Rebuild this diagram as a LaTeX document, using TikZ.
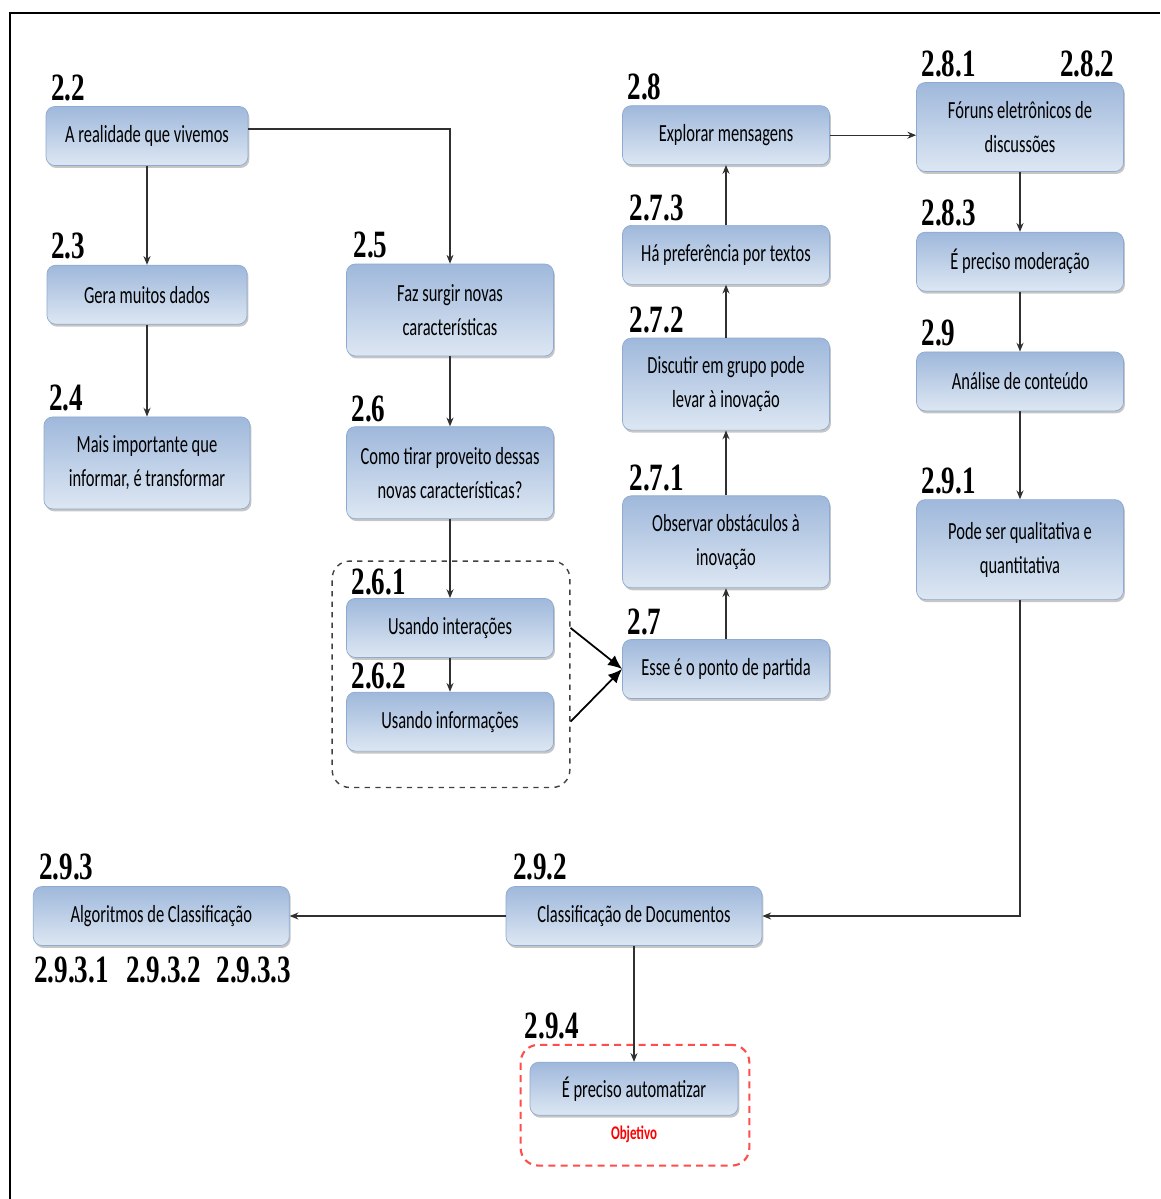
\documentclass[tikz,border=0pt]{standalone}
\usepackage{fontspec}
\newfontfamily\boxfont[FakeStretch=0.67]{Carlito}
\newfontfamily\numfont[FakeStretch=0.7]{Liberation Serif}
\usepackage{tikz}
\usetikzlibrary{arrows.meta,positioning,fit,shadows}

\definecolor{boxtop}{HTML}{9FB8DB}
\definecolor{boxbot}{HTML}{DDE7F3}
\definecolor{boxedge}{HTML}{8FAAD0}
\definecolor{goalred}{HTML}{FF4D4D}
\definecolor{linegray}{HTML}{303030}

\begin{document}
\begin{tikzpicture}[
  box/.style={draw=boxedge, rounded corners=5pt, top color=boxtop, bottom color=boxbot,
    minimum width=4.14cm, minimum height=1.18cm, align=center,
    font=\boxfont\fontsize{14}{19.3}\selectfont,
    drop shadow={shadow xshift=0.8pt, shadow yshift=-1.4pt, opacity=0.45}},
  tallbox/.style={box, minimum height=1.84cm},
  widebox/.style={box, minimum width=5.12cm},
  num/.style={font=\numfont\bfseries\fontsize{22}{22}\selectfont, inner sep=0pt, anchor=south west},
  arr/.style={-{Stealth[length=5pt,width=4pt]}, draw=linegray, line width=0.7pt},
  bigarr/.style={-{Latex[length=8pt,width=7pt]}, line width=1pt},
  group/.style={draw=black!75, dashed, rounded corners=10pt, line width=0.8pt, inner sep=0pt},
  goal/.style={draw=goalred, dash pattern=on 4pt off 3pt, rounded corners=10pt, line width=1.2pt, inner sep=0pt},
  goaltext/.style={text=red, font=\boxfont\bfseries\fontsize{11}{11}\selectfont, inner sep=0pt}
]
  \useasboundingbox (0,0) rectangle (23.2,-23.98);
  % frame
  \draw[line width=1.2pt] (0.2,-23.98) -- (0.2,-0.26) -- (23.2,-0.26);

  % first column
  \node[box, minimum width=4.04cm] (n22) at (2.94,-2.72) {A realidade que vivemos};
  \node[box, minimum width=4.0cm, below=1.98cm of n22] (n23) {Gera muitos dados};
  \node[tallbox, minimum width=4.12cm, below=1.84cm of n23] (n24) {Mais importante que\\informar, é transformar};

  % second column
  \node[tallbox] (n25) at (9.00,-6.20) {Faz surgir novas\\características};
  \node[tallbox, below=1.40cm of n25] (n26) {Como tirar proveito dessas\\novas características?};
  \node[box, below=1.58cm of n26] (n261) {Usando interações};
  \node[box, below=0.68cm of n261] (n262) {Usando informações};
  \node[group, fit={([shift={(-0.28,0.74)}]n261.north west) ([shift={(0.32,-0.72)}]n262.south east)}] (grp) {};

  % third column
  \node[box] (n27) at (14.52,-13.38) {Esse é o ponto de partida};
  \node[tallbox, above=1.02cm of n27] (n271) {Observar obstáculos à\\inovação};
  \node[tallbox, above=1.30cm of n271] (n272) {Discutir em grupo pode\\levar à inovação};
  \node[box, above=1.06cm of n272] (n273) {Há preferência por textos};
  \node[box, above=1.20cm of n273] (n28) {Explorar mensagens};

  % fourth column
  \node[box, minimum height=1.78cm] (n281) at (20.40,-2.54) {Fóruns eletrônicos de\\discussões};
  \node[box, below=1.20cm of n281] (n283) {É preciso moderação};
  \node[box, below=1.20cm of n283] (n29) {Análise de conteúdo};
  \node[tallbox, minimum height=2.0cm, below=1.76cm of n29] (n291) {Pode ser qualitativa e\\quantitativa};

  % bottom row
  \node[widebox] (n292) at (12.68,-18.32) {Classificação de Documentos};
  \node[widebox, left=4.32cm of n292] (n293) {Algoritmos de Classificação};
  \node[box, minimum width=4.16cm, minimum height=1.06cm, below=2.32cm of n292] (n294) {É preciso automatizar};
  \node[goaltext, below=0.2cm of n294] (obj) {Objetivo};
  \node[goal, fit={([shift={(-0.18,0.34)}]n294.north west) ([shift={(0.22,-1.0)}]n294.south east)}] (gbox) {};

  % numbers
  \node[num] (l22) at ([shift={(0.1,0.1)}]n22.north west) {2.2};
  \node[num] (l23) at ([shift={(0.08,0.1)}]n23.north west) {2.3};
  \node[num] (l24) at ([shift={(0.1,0.1)}]n24.north west) {2.4};
  \node[num] (l25) at ([shift={(0.14,0.1)}]n25.north west) {2.5};
  \node[num] (l26) at ([shift={(0.1,0.08)}]n26.north west) {2.6};
  \node[num] (l261) at ([shift={(0.1,0.06)}]n261.north west) {2.6.1};
  \node[num] (l262) at ([shift={(0.1,0.04)}]n262.north west) {2.6.2};
  \node[num] (l27) at ([shift={(0.1,0.08)}]n27.north west) {2.7};
  \node[num] (l271) at ([shift={(0.14,0.08)}]n271.north west) {2.7.1};
  \node[num] (l272) at ([shift={(0.14,0.08)}]n272.north west) {2.7.2};
  \node[num] (l273) at ([shift={(0.14,0.08)}]n273.north west) {2.7.3};
  \node[num] (l28) at ([shift={(0.1,0.1)}]n28.north west) {2.8};
  \node[num] (l281) at ([shift={(0.1,0.1)}]n281.north west) {2.8.1};
  \node[num, anchor=south east] (l282) at ([shift={(-0.18,0.1)}]n281.north east) {2.8.2};
  \node[num] (l283) at ([shift={(0.1,0.1)}]n283.north west) {2.8.3};
  \node[num] (l29) at ([shift={(0.1,0.1)}]n29.north west) {2.9};
  \node[num] (l291) at ([shift={(0.1,0.1)}]n291.north west) {2.9.1};
  \node[num] (l292) at ([shift={(0.14,0.12)}]n292.north west) {2.9.2};
  \node[num] (l293) at ([shift={(0.12,0.12)}]n293.north west) {2.9.3};
  \node[num, anchor=north west] (l2931) at ([shift={(0.02,-0.22)}]n293.south west) {2.9.3.1};
  \node[num, right=0.34cm of l2931] (l2932) {2.9.3.2};
  \node[num, right=0.3cm of l2932] (l2933) {2.9.3.3};
  \node[num] (l294) at ([shift={(0.1,0.08)}]gbox.north west) {2.9.4};

  % connectors
  \draw[arr] (n22) -- (n23);
  \draw[arr] (n23) -- (n24);
  \draw[arr] ([yshift=0.14cm]n22.east) -| (n25.north);
  \draw[arr] (n25) -- (n26);
  \draw[arr] (n26) -- (n261);
  \draw[arr] (n261) -- (n262);
  \draw[bigarr] (grp.east |- n261) -- (n27.west);
  \draw[bigarr] (grp.east |- n262) -- (n27.west);
  \draw[arr] (n27) -- (n271);
  \draw[arr] (n271) -- (n272);
  \draw[arr] (n272) -- (n273);
  \draw[arr] (n273) -- (n28);
  \draw[arr] (n28.east) -- (n28.east -| n281.west);
  \draw[arr] (n281) -- (n283);
  \draw[arr] (n283) -- (n29);
  \draw[arr] (n29) -- (n291);
  \draw[arr] (n291.south) |- (n292.east);
  \draw[arr] (n292) -- (n293);
  \draw[arr] (n292) -- (n294);
\end{tikzpicture}
\end{document}
